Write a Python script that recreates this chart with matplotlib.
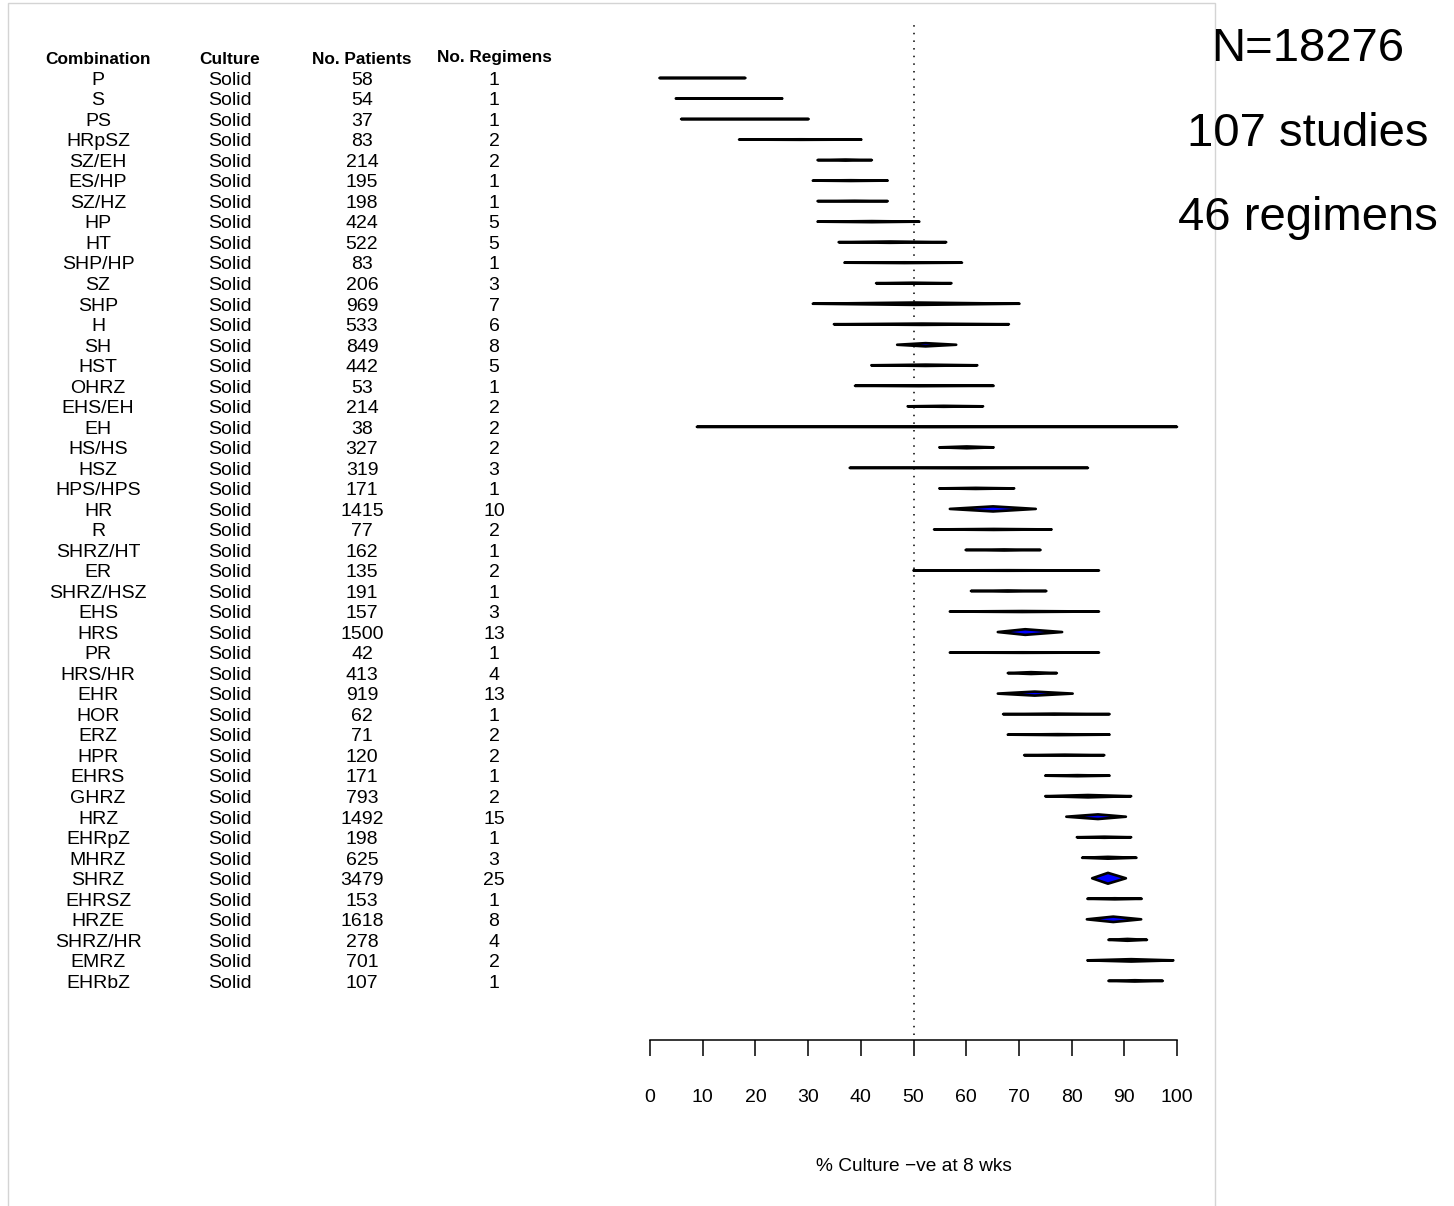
import matplotlib
matplotlib.use("Agg")
import matplotlib.pyplot as plt
from matplotlib.patches import Rectangle
from matplotlib.transforms import blended_transform_factory

plt.rcParams['font.family'] = ['Liberation Sans', 'DejaVu Sans']

combinations = ["P", "S", "PS", "HRpSZ", "SZ/EH", "ES/HP", "SZ/HZ", "HP", "HT",
                "SHP/HP", "SZ", "SHP", "H", "SH", "HST", "OHRZ", "EHS/EH", "EH",
                "HS/HS", "HSZ", "HPS/HPS", "HR", "R", "SHRZ/HT", "ER", "SHRZ/HSZ",
                "EHS", "HRS", "PR", "HRS/HR", "EHR", "HOR", "ERZ", "HPR", "EHRS",
                "GHRZ", "HRZ", "EHRpZ", "MHRZ", "SHRZ", "EHRSZ", "HRZE", "SHRZ/HR",
                "EMRZ", "EHRbZ"]
culture = ["Solid"] * len(combinations)
patients = [58, 54, 37, 83, 214, 195, 198, 424, 522, 83, 206, 969, 533, 849, 442,
            53, 214, 38, 327, 319, 171, 1415, 77, 162, 135, 191, 157, 1500, 42, 413,
            919, 62, 71, 120, 171, 793, 1492, 198, 625, 3479, 153, 1618, 278, 701, 107]
regimens = [1, 1, 1, 2, 2, 1, 1, 5, 5, 1, 3, 7, 6, 8, 5, 1, 2, 2, 2, 3, 1, 10, 2, 1,
            2, 1, 3, 13, 1, 4, 13, 1, 2, 2, 1, 2, 15, 1, 3, 25, 1, 8, 4, 2, 1]

# % culture negative at 8 weeks: lower limit, pooled estimate, upper limit
ci_lower = [1.8, 4.9, 5.9, 16.9, 31.8, 30.9, 31.8, 31.8, 35.8, 36.9, 42.9, 30.9,
            34.9, 46.9, 42.0, 38.9, 48.9, 8.9, 54.9, 37.9, 54.9, 56.9, 53.9, 59.9,
            50.0, 60.9, 56.9, 66.0, 56.9, 67.9, 66.0, 67.0, 67.9, 71.0, 75.0, 75.0,
            79.0, 81.0, 82.0, 83.9, 83.0, 82.9, 87.0, 83.0, 87.0]
estimate = [9.5, 14.5, 17.5, 28.6, 37.1, 38.1, 38.8, 42.1, 45.5, 48.3, 49.9, 50.3,
            51.6, 52.3, 52.3, 51.0, 55.7, 53.0, 60.1, 61.1, 61.8, 65.1, 65.2, 67.2,
            67.9, 67.9, 70.6, 71.2, 70.6, 72.3, 73.0, 76.7, 77.4, 78.7, 81.1, 83.1,
            85.0, 86.2, 86.9, 86.9, 88.2, 87.9, 90.6, 91.3, 92.0]
ci_upper = [18.1, 25.1, 30.1, 40.1, 42.1, 45.1, 45.1, 51.1, 56.2, 59.2, 57.2, 70.1,
            68.1, 58.1, 62.1, 65.2, 63.2, 100.0, 65.2, 83.1, 69.1, 73.2, 76.2, 74.1,
            85.2, 75.2, 85.2, 78.2, 85.2, 77.2, 80.2, 87.2, 87.2, 86.2, 87.2, 91.3,
            90.3, 91.3, 92.3, 90.3, 93.3, 93.2, 94.3, 99.3, 97.3]
# relative weight of each pooled estimate (largest = 1)
rel_weight = [0.03, 0.03, 0.03, 0.05, 0.10, 0.07, 0.07, 0.10, 0.12, 0.07, 0.09, 0.22,
              0.12, 0.30, 0.12, 0.07, 0.09, 0.05, 0.17, 0.07, 0.10, 0.47, 0.09, 0.10,
              0.05, 0.10, 0.09, 0.52, 0.05, 0.17, 0.37, 0.09, 0.09, 0.09, 0.10, 0.22,
              0.43, 0.10, 0.17, 1.00, 0.10, 0.50, 0.17, 0.22, 0.12]

headers = ["Combination", "Culture", "No. Patients", "No. Regimens"]
x_ticks = [0, 10, 20, 30, 40, 50, 60, 70, 80, 90, 100]
summary_lines = ["N=18276", "107 studies", "46 regimens"]


if __name__ == "__main__":
    W, H = 1454, 1206
    fig = plt.figure(figsize=(W / 100, H / 100), dpi=100)

    # pixel layout of the forest panel
    ax_left, ax_right, ax_top, ax_bottom = 650, 1177, 20, 1040
    row0, row_step = 78, 20.52
    ax = fig.add_axes([ax_left / W, 1 - ax_bottom / H,
                       (ax_right - ax_left) / W, (ax_bottom - ax_top) / H])
    ax.set_xlim(0, 100)
    ax.set_ylim((ax_bottom - row0) / row_step, (ax_top - row0) / row_step)

    for s in ['left', 'right', 'top']:
        ax.spines[s].set_visible(False)
    ax.spines['bottom'].set_linewidth(1.1)
    ax.set_yticks([])
    ax.set_xticks(x_ticks)
    ax.tick_params(axis='x', direction='out', length=11.5, width=1.1, pad=23.5,
                   labelsize=14)
    ax.set_xlabel("% Culture \u2212ve at 8 wks", fontsize=13.8, labelpad=38)

    ax.axvline(50, ymin=5 / (ax_bottom - ax_top), ymax=1, color='black', lw=1.1,
               linestyle=(0, (1, 4)))

    max_half = 5.4 / row_step
    for i in range(len(combinations)):
        h = rel_weight[i] * max_half
        ax.fill([ci_lower[i], estimate[i], ci_upper[i], estimate[i]],
                [i, i - h, i, i + h], facecolor='#0000ff', edgecolor='black',
                lw=1.9, joinstyle='round', clip_on=False)

    # table on the left, rows share the forest y scale
    trans = blended_transform_factory(fig.transFigure, ax.transData)
    col_x = [98, 230, 362, 494]
    base = 6.8 / row_step
    header_y = [-1.02, -1.02, -1.02, -1.12]
    for cx, hd, hy in zip(col_x, headers, header_y):
        ax.text(cx / W, hy + base, hd, transform=trans, ha='center', va='baseline',
                fontsize=12.4, fontweight='bold', clip_on=False)
    for i in range(len(combinations)):
        cells = [combinations[i], culture[i], str(patients[i]), str(regimens[i])]
        for cx, txt in zip(col_x, cells):
            ax.text(cx / W, i + base, txt, transform=trans, ha='center',
                    va='baseline', fontsize=14, clip_on=False)

    fig.patches.append(Rectangle((8 / W, -0.01), (1215 - 8) / W, 1.01 - 3 / H,
                                 transform=fig.transFigure, fill=False,
                                 edgecolor='#d4d4d4', lw=1))

    for txt, yb in zip(summary_lines, [61, 146, 230]):
        fig.text(1308 / W, 1 - yb / H, txt, ha='center', va='baseline', fontsize=34)

    fig.savefig("out.png", dpi=100)
